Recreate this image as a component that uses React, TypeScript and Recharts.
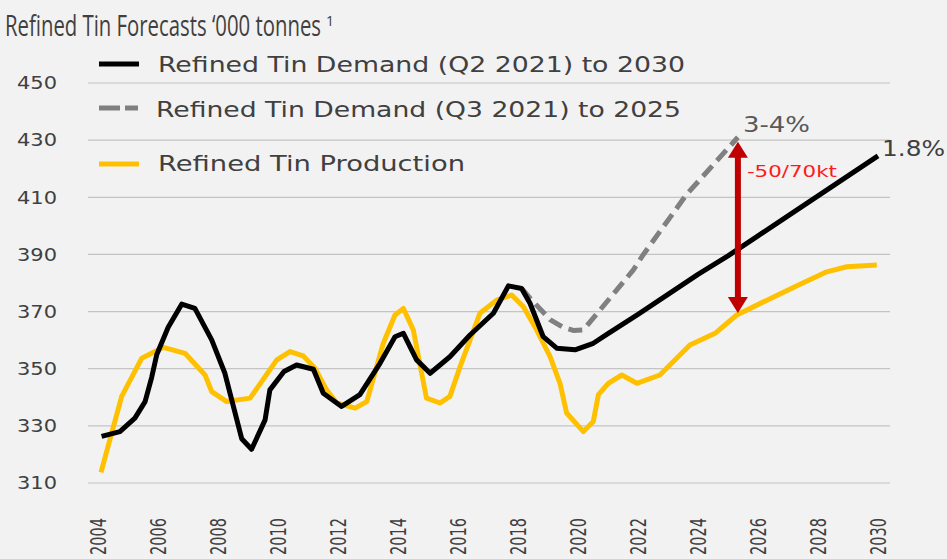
import React from 'react'
import { LineChart, Line, XAxis, YAxis, CartesianGrid, Legend, ReferenceLine, ReferenceDot } from 'recharts'

const W = 947
const H = 559

// Refined tin demand, Q2 2021 outlook ('000 t)
const demandQ2Years = [
  2004.12, 2004.73, 2005.23, 2005.57, 2005.79, 2005.96, 2006.34, 2006.79, 2007.23, 2007.79,
  2008.23, 2008.79, 2009.12, 2009.57, 2009.73, 2010.2, 2010.62, 2011.18, 2011.51, 2012.12,
  2012.73, 2013.4, 2013.9, 2014.18, 2014.62, 2015.07, 2015.73, 2016.4, 2017.18, 2017.68,
  2018.12, 2018.4, 2018.84, 2019.29, 2019.9, 2020.51, 2021, 2022, 2023, 2024,
  2025, 2026, 2027, 2028, 2029, 2030,
]
const demandQ2Values = [
  326.3, 328.0, 332.7, 338.5, 347, 355, 364.5, 372.6, 371.1, 360.1,
  348.4, 325.5, 321.8, 332.1, 342.6, 349, 351.3, 349.8, 341.4, 336.8,
  340.9, 351.9, 361.2, 362.4, 353.1, 348.4, 354.2, 361.8, 369.4, 379,
  378.1, 372.9, 361.2, 357.2, 356.6, 358.9, 362.3, 369, 376, 383,
  389.5, 396.5, 403.5, 410.5, 417.5, 424.5,
]

// Refined tin demand, Q3 2021 outlook
const demandQ3Years = [2018.12, 2018.4, 2019.07, 2019.5, 2019.84, 2020.18, 2020.73, 2021.84, 2022.18, 2023.62, 2025.33]
const demandQ3Values = [378.1, 374.7, 367.2, 364.5, 363.4, 363.6, 370.5, 384.5, 390, 411, 431]

// Refined tin production
const productionYears = [
  2004.1, 2004.79, 2005.46, 2006.18, 2006.9, 2007.57, 2007.79, 2008.29, 2009.07, 2009.96,
  2010.4, 2010.84, 2011.23, 2011.62, 2011.96, 2012.57, 2012.96, 2013.51, 2013.9, 2014.18,
  2014.51, 2014.95, 2015.4, 2015.73, 2016.07, 2016.73, 2017.29, 2017.79, 2018.18, 2018.62,
  2019.07, 2019.4, 2019.62, 2020.18, 2020.51, 2020.68, 2021.01, 2021.46, 2021.96, 2022.73,
  2023.73, 2024.57, 2025.29, 2026.3, 2027.3, 2028.29, 2028.96, 2029.96,
]
const productionValues = [
  313.7, 340.3, 353.7, 357.5, 355.4, 347.8, 342, 338.5, 339.7, 353.1,
  356, 354.5, 350.2, 342.6, 338, 336.2, 338.5, 358.9, 368.8, 371.1,
  363.6, 339.7, 338, 340.3, 350.7, 369.4, 374, 375.8, 371.7, 363.6,
  354.2, 344.9, 334.5, 328, 331.5, 340.9, 344.9, 347.8, 344.9, 347.8,
  358.3, 362.4, 368.8, 374, 379, 383.9, 385.7, 386.3,
]

const xTicks = [2004, 2006, 2008, 2010, 2012, 2014, 2016, 2018, 2020, 2022, 2024, 2026, 2028, 2030]
const yTicks = [310, 330, 350, 370, 390, 410, 430, 450]

// supply gap arrow in 2025
const gapYear = 2025.33
const gapLow = 369.5
const gapHigh = 429.4

const NAME_Q2 = 'Refined Tin Demand (Q2 2021) to 2030'
const NAME_Q3 = 'Refined Tin Demand (Q3 2021) to 2025'
const NAME_PROD = 'Refined Tin Production'

const zip = (xs: number[], ys: number[]) => xs.map((t, i) => ({ t, v: ys[i] }))
const q2Data = zip(demandQ2Years, demandQ2Values)
const q3Data = zip(demandQ3Years, demandQ3Values)
const prodData = zip(productionYears, productionValues)

const TEXT = '#404040'
const FONT = '"DejaVu Sans", Verdana, sans-serif'

function YTick({ x, y, payload }: any) {
  return (
    <text x={x} y={y} dy="0.35em" textAnchor="end" fontSize={18} fill={TEXT} fontFamily={FONT}
      textLength={40} lengthAdjust="spacingAndGlyphs">
      {payload.value}
    </text>
  )
}

function XTick({ x, y, payload }: any) {
  return (
    <g transform={`translate(${x},${y})`}>
      <text transform="rotate(-90)" textAnchor="end" dy="0.36em" fontSize={22} fill={TEXT}
        fontFamily='"Liberation Sans Narrow", "DejaVu Sans Condensed", Roboto, sans-serif'
        textLength={37} lengthAdjust="spacingAndGlyphs">
        {payload.value}
      </text>
    </g>
  )
}

const legendRows: Record<string, { y: number; tx: number; base: number; len: number; dash?: string }> = {
  [NAME_Q2]: { y: 64, tx: 158, base: 72, len: 527 },
  [NAME_Q3]: { y: 108, tx: 156, base: 116.5, len: 525, dash: '21 5 13' },
  [NAME_PROD]: { y: 164, tx: 158, base: 171, len: 307 },
}

function LegendContent({ payload }: any) {
  const items = [NAME_Q2, NAME_Q3, NAME_PROD]
    .map(n => (payload || []).find((p: any) => p.value === n))
    .filter(Boolean)
  return (
    <svg width={W} height={190} style={{ display: 'block' }}>
      {items.map((p: any) => {
        const r = legendRows[p.value]
        return (
          <g key={p.value}>
            <line x1={99} x2={139} y1={r.y} y2={r.y} stroke={p.color} strokeWidth={5} strokeDasharray={r.dash} />
            <text x={r.tx} y={r.base} fontSize={21} fill={TEXT} fontFamily={FONT}
              textLength={r.len} lengthAdjust="spacingAndGlyphs">
              {p.value}
            </text>
          </g>
        )
      })}
    </svg>
  )
}

function GapArrow(props: any) {
  const { x1, y1, y2 } = props
  const top = Math.min(y1, y2)
  const bot = Math.max(y1, y2)
  const c = '#C00000'
  return (
    <g>
      <line x1={x1} x2={x1} y1={top + 12} y2={bot - 12} stroke={c} strokeWidth={6} />
      <polygon points={`${x1},${top} ${x1 - 10},${top + 16} ${x1 + 10},${top + 16}`} fill={c} />
      <polygon points={`${x1},${bot} ${x1 - 10},${bot - 16} ${x1 + 10},${bot - 16}`} fill={c} />
      <text x={x1 + 9} y={top + 35.5} fontSize={15.5} fill="#FF1A1A" fontFamily={FONT}
        textLength={90} lengthAdjust="spacingAndGlyphs">
        -50/70kt
      </text>
    </g>
  )
}

const endLabel = (text: string, dx: number, dy: number, len: number, fill: string) => (props: any) => {
  const vb = props.viewBox || {}
  return (
    <text x={vb.x + dx} y={vb.y + dy} fontSize={21} fill={fill} fontFamily={FONT}
      textLength={len} lengthAdjust="spacingAndGlyphs">
      {text}
    </text>
  )
}

export default function App() {
  const q3End = q3Data[q3Data.length - 1]
  const q2End = q2Data[q2Data.length - 1]
  return (
    <div style={{ position: 'absolute', left: 0, top: 0, width: W, height: H, background: '#F2F2F2', overflow: 'hidden' }}>
      <svg width={W} height={46} style={{ position: 'absolute', left: 0, top: 0, pointerEvents: 'none' }}>
        <text x={5} y={36} fontSize={28.5} fill={TEXT}
          fontFamily='"Liberation Sans Narrow", "Open Sans", sans-serif'>
          <tspan textLength={316} lengthAdjust="spacingAndGlyphs">Refined Tin Forecasts ‘000 tonnes</tspan>
          <tspan x={326} y={26} fontSize={14}>1</tspan>
        </text>
      </svg>
      <LineChart width={W} height={H} margin={{ top: 83, right: 57, left: 28, bottom: 26 }}>
        <CartesianGrid horizontal vertical={false} stroke="#C4C4C4" strokeWidth={1.2} />
        <XAxis
          type="number"
          dataKey="t"
          domain={[2003.667, 2030.4]}
          allowDataOverflow
          ticks={xTicks}
          interval={0}
          height={50}
          axisLine={false}
          tickLine={false}
          tickSize={0}
          tickMargin={35}
          tick={<XTick />}
        />
        <YAxis
          type="number"
          domain={[310, 450]}
          ticks={yTicks}
          interval={0}
          width={60}
          axisLine={false}
          tickLine={false}
          tickSize={0}
          tickMargin={31}
          tick={<YTick />}
        />
        <Legend
          layout="horizontal"
          verticalAlign="middle"
          align="center"
          content={<LegendContent />}
          wrapperStyle={{ left: 0, top: 0, width: W, height: 190, margin: 0, padding: 0 }}
        />
        <Line name={NAME_PROD} data={prodData} dataKey="v" stroke="#FFC000" strokeWidth={5}
          dot={false} activeDot={false} strokeLinejoin="round" isAnimationActive={false} />
        <Line name={NAME_Q3} data={q3Data} dataKey="v" stroke="#808080" strokeWidth={5} strokeDasharray="14 7"
          dot={false} activeDot={false} strokeLinejoin="round" isAnimationActive={false} />
        <Line name={NAME_Q2} data={q2Data} dataKey="v" stroke="#000000" strokeWidth={5}
          dot={false} activeDot={false} strokeLinejoin="round" isAnimationActive={false} />
        <ReferenceLine
          segment={[{ x: gapYear, y: gapLow }, { x: gapYear, y: gapHigh }]}
          shape={GapArrow}
          ifOverflow="visible"
        />
        <ReferenceDot x={q3End.t} y={q3End.v} r={0} fill="none" stroke="none"
          label={{ content: endLabel('3-4%', 5, -5.5, 67, '#595959') }} />
        <ReferenceDot x={q2End.t} y={q2End.v} r={0} fill="none" stroke="none"
          label={{ content: endLabel('1.8%', 4, 0.5, 63, TEXT) }} />
      </LineChart>
    </div>
  )
}
